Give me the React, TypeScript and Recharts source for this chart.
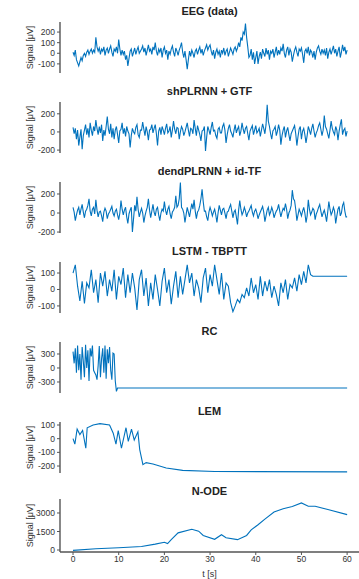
import React from 'react';
import { LineChart, Line, XAxis, YAxis } from 'recharts';

// sample spacing of the noisy traces (seconds)
const STEP = 0.25;
const LSTM_STEP = 0.5;
const TIME_TICKS = [0, 10, 20, 30, 40, 50, 60];

const eegValues = [
	10, -20, 30, -60, -90, -120, -80, -40, -70, -20, 0, -30, 10, 30, -10, 20, 40, 0, 30, 10,
	150, 60, 20, 50, -10, 40, 20, 60, -20, 30, 50, 0, 40, 70, 10, -30, 40, 20, 60, 0,
	130, 40, -20, 30, -10, 20, -60, -20, -120, -50, 20, 40, -30, 10, 50, -10, 30, 60, 0, 20,
	40, 70, 10, 50, -20, 30, 80, 20, 40, -10, 60, 30, 100, 20, -20, 40, 10, 50, -40, 30,
	60, 0, 30, -60, 20, -10, 40, 70, 10, -30, 50, 20, -20, 30, 60, 100, 10, -40, 20, -60,
	-150, -60, 20, -30, 30, 0, -40, 20, 40, -10, 30, 60, 0, 40, -20, 20, 50, 80, 30, 60,
	80, 20, -20, 30, -50, 10, 40, -10, 20, -40, 30, 0, 50, -20, 20, 40, -30, 10, 50, 20,
	-10, 40, 60, 20, 50, 100, 60, 150, 120, 200, 180, 280, 150, 60, -40, -20, 40, -60, 10, -100,
	-40, 20, -100, -30, 10, -50, 40, 0, -30, 50, -10, 30, -60, 20, 0, 40, -40, 10, 60, -20,
	30, -10, 50, 20, 90, 0, -40, 30, 60, -20, 40, 10, -80, -20, 30, 60, 10, -30, 40, 20,
	50, -10, -90, 20, 40, 0, 60, -20, 30, 10, -40, 20, -60, 10, 50, 70, 20, -10, 40, 0,
	30, -20, 50, -50, 10, 40, -10, 30, 70, 0, 40, -30, 20, 60, -40, 10, 80, 20, 60, -10,
	30,
];

const shplrnnValues = [
	50, -20, 40, -80, 20, -150, -60, 30, -190, -40, 20, 80, -30, 40, -60, 100, 20, -40, 60, 10,
	130, 40, -30, 60, -10, 80, -100, 20, -40, 60, 170, 30, -20, 90, -60, 40, -80, 20, 60, -30,
	-120, 10, 30, 100, -20, 40, -50, 60, 10, -20, -170, -40, 40, 0, -20, 50, 80, -30, -60, 20,
	20, 110, 30, -40, 60, 0, -90, 20, 30, 80, -10, 40, 80, -20, -150, 10, 50, -30, 60, 20,
	-30, 40, 90, -10, 10, 60, -60, 20, 120, 30, -20, 50, 40, -80, 0, 60, 30, -40, 0, 50,
	100, 20, -50, 40, 30, -20, 130, 40, -40, 70, 20, -30, -100, 10, 20, 60, -210, -60, 60, 20,
	-30, 50, 110, 10, 20, -40, -70, 30, 50, -10, -10, 60, 90, 20, -120, -30, 40, 80, 10, -20,
	-60, 20, 80, -10, 30, 60, -40, 10, 100, 30, -20, 40, 60, -20, -90, 10, 40, 70, -30, 20,
	70, -10, 10, 40, -50, 20, 90, 40, -20, 80, 300, 120, 60, -20, -80, 10, 30, 60, -40, 10,
	80, 20, -140, -40, 20, 60, -60, 10, 50, -30, -100, -20, 10, 40, 70, -20, -150, -50, 30, 60,
	-80, 10, 40, -30, -120, -40, 60, 20, -30, 40, 90, 10, -60, -10, 20, 70, 100, 30, -40, 20,
	180, 60, 30, -20, -70, 20, 120, 40, 0, -30, 60, 20, -90, 10, 80, 140, -30, 20, 40, -50,
	10,
];

const dendValues = [
	60, 10, -80, -20, 30, 60, -20, 40, 90, 10, -50, 20, 40, 80, 150, 20, -30, 40, 60, -10,
	140, 30, -40, 10, 20, -30, -90, 10, 50, 20, -60, -10, 10, 40, 70, 0, -30, 20, 40, -20,
	-70, 0, 130, 40, -20, 30, 60, -40, -110, -10, 30, 60, -200, -60, 80, 20, 170, 40, -40, 10,
	50, 0, -100, -30, 20, 60, 150, 30, -50, 20, 90, 10, -30, 40, 60, -20, -80, 0, 40, 20,
	120, 30, -20, 40, 70, -10, -60, 10, 30, 60, 180, 60, 80, 150, 320, 60, 40, 0, -100, -20,
	60, 10, -40, 30, 100, 40, 140, 20, -60, 10, 30, 80, 150, 250, 120, 20, 20, -40, -80, 10,
	60, 20, -30, 10, 40, -20, -100, 0, 80, 30, -20, 40, 50, 0, -60, 10, 20, 60, 90, 20,
	-50, 10, 30, -40, -120, 30, 130, 40, -20, 10, 60, 20, -40, 0, 20, 50, 80, 10, -30, 20,
	40, 0, -60, -20, 10, 40, 70, 10, -90, -30, 30, 60, -20, 10, 60, 20, -50, -10, 20, 40,
	90, 20, -40, 10, 50, 30, 100, 40, -60, 0, 30, 80, 240, 150, 130, 40, -80, -20, 40, 10,
	-30, 20, 60, 0, -100, -30, 140, 40, -20, 10, 50, 30, -70, -10, 20, 60, 90, 20, -40, 0,
	30, -20, -90, 10, 120, 40, -20, 10, 60, 20, -110, -30, 40, 70, -30, 0, 80, 110, 20, -40,
	-40,
];

const lstmValues = [
	100, 150, 20, -70, 50, -85, 40, 10, 120, -20,
	60, -80, 100, 20, 110, -40, 60, -10, 120, -60,
	80, 30, 130, -50, 90, -20, 100, 10, -125, 60,
	120, -40, 70, -100, 40, -60, 90, 0, -100, 50,
	130, -20, 60, -90, 20, 110, -50, 80, -30, 60,
	150, 40, 100, -40, 60, 10, -80, 70, 130, -20,
	90, 20, 150, 60, -30, 100, -60, 40, 20, -80,
	-135, -100, -60, -80, -30, -50, 10, -40, 70, -20,
	30, -60, 80, -40, 50, -10, 60, -50, 20, -30,
	-100, 40, -20, 60, -60, 30, 10, 70, -10, 90,
	30, 110, 40, 150, 90, 80, 80, 80, 80, 80,
	80, 80, 80, 80, 80, 80, 80, 80, 80, 80,
	80,
];

const rcTimes = [
	0, 0.25, 0.5, 0.75, 1, 1.25, 1.5, 1.75, 2, 2.25,
	2.5, 2.75, 3, 3.25, 3.5, 3.75, 4, 4.25, 4.5, 4.75,
	5, 5.25, 5.5, 5.75, 6, 6.25, 6.5, 6.75, 7, 7.25,
	7.5, 7.75, 8, 8.25, 8.5, 8.75, 9, 9.25, 9.5, 9.75,
	60,
];
const rcValues = [
	350, 100, 420, -100, 480, -50, 300, -250, 450, 150,
	-200, 500, 0, 380, -280, 420, 250, 480, -50, -100,
	-150, -250, 50, 470, -200, 200, 420, -100, 480, -230,
	400, 100, 450, -50, -250, 320, 300, -280, -500, -430,
	-430,
];

const lemTimes = [
	0, 0.4, 0.9, 1.5, 2.1, 2.8, 3.1, 4.4, 5.9, 8,
	8.8, 9.4, 9.9, 10.6, 11.6, 12.1, 12.8, 13.4, 14.2, 14.6,
	15.3, 16, 17.5, 20.4, 24, 31, 60,
];
const lemValues = [
	0, -40, 70, 30, 60, -70, 80, 100, 110, 100,
	40, -40, 60, -70, 80, -20, 70, -10, 50, -80,
	-190, -175, -185, -215, -232, -240, -243,
];

const nodeTimes = [
	0, 5, 10, 15, 18, 20, 20.7, 21.5, 23, 26,
	27.5, 28.5, 31, 32.5, 33.5, 36, 38, 39, 40.5, 42,
	44, 46, 48, 50, 51.5, 53, 56, 60,
];
const nodeValues = [
	-30, 105, 185, 290, 475, 630, 525, 840, 1390, 1680,
	1525, 1180, 870, 1240, 1000, 840, 1180, 1630, 2050, 2500,
	3080, 3340, 3530, 3815, 3550, 3550, 3260, 2870,
];

const toSeries = (values: number[], times?: number[], step = STEP) =>
	values.map((v, i) => ({ t: times ? times[i] : i * step, v }));

const FONT = "'Liberation Sans', Arial, Helvetica, sans-serif";
const BLUE = '#0072BD';
const AXIS = '#555';

interface iPanel {
	title: string;
	data: { t: number; v: number }[];
	domain: [number, number];
	ticks: number[];
	last?: boolean;
}

const panels: iPanel[] = [
	{ title: 'EEG (data)', data: toSeries(eegValues), domain: [-186, 295], ticks: [-100, 0, 100, 200] },
	{ title: 'shPLRNN + GTF', data: toSeries(shplrnnValues), domain: [-232, 330], ticks: [-200, 0, 200] },
	{ title: 'dendPLRNN + id-TF', data: toSeries(dendValues), domain: [-210, 326], ticks: [-200, 0, 200] },
	{ title: 'LSTM - TBPTT', data: toSeries(lstmValues, undefined, LSTM_STEP), domain: [-143, 167], ticks: [-100, 0, 100] },
	{ title: 'RC', data: toSeries(rcValues, rcTimes), domain: [-536, 557], ticks: [-300, 0, 300] },
	{ title: 'LEM', data: toSeries(lemValues, lemTimes), domain: [-251, 122], ticks: [-200, -100, 0, 100] },
	{ title: 'N-ODE', data: toSeries(nodeValues, nodeTimes), domain: [-162, 4135], ticks: [0, 1500, 3000], last: true },
];

const Panel = ({ title, data, domain, ticks, last }: iPanel) => {
	const height = last ? 99 : 80;
	return (
		<div style={{ position: 'relative', width: 359, height }}>
			<div
				style={{
					position: 'absolute',
					top: 5,
					left: 60,
					width: 299,
					textAlign: 'center',
					fontWeight: 'bold',
					fontSize: 11,
					lineHeight: '13px',
					color: '#222',
				}}>
				{title}
			</div>
			<LineChart width={359} height={height} data={data} margin={{ top: last ? 19 : 22, right: 0, left: 0, bottom: last ? 0 : 7 }}>
				<XAxis
					dataKey='t'
					type='number'
					domain={[-2.85, 62.6]}
					allowDataOverflow
					ticks={TIME_TICKS}
					interval={0}
					height={last ? 27 : 0}
					tick={last ? { fontSize: 8.5, fill: '#333' } : false}
					tickLine={last ? { stroke: AXIS } : false}
					tickSize={3}
					tickMargin={1}
					axisLine={{ stroke: AXIS, strokeWidth: 1.4 }}
					label={last ? { value: 't [s]', position: 'insideBottom', offset: 2, fontSize: 9, fill: '#333' } : undefined}
				/>
				<YAxis
					dataKey='v'
					type='number'
					domain={domain}
					allowDataOverflow
					ticks={ticks}
					interval={0}
					width={60}
					tick={{ fontSize: 8.5, fill: '#333' }}
					tickLine={{ stroke: AXIS }}
					tickSize={3}
					tickMargin={2}
					axisLine={{ stroke: AXIS, strokeWidth: 1.4 }}
					label={{ value: 'Signal [μV]', angle: -90, position: 'center', fontSize: 9, fill: '#333' }}
				/>
				<Line type='linear' dataKey='v' stroke={BLUE} strokeWidth={1.1} dot={false} isAnimationActive={false} />
			</LineChart>
		</div>
	);
};

export default function App() {
	return (
		<div style={{ position: 'absolute', left: 0, top: 0, width: 359, height: 579, background: '#fff', fontFamily: FONT }}>
			{panels.map((p) => (
				<Panel key={p.title} {...p} />
			))}
		</div>
	);
}
